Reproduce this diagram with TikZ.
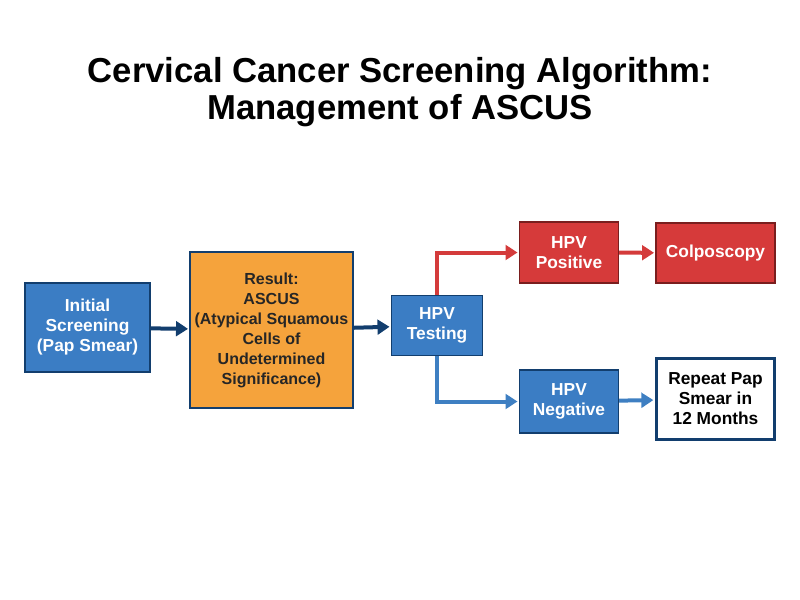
\documentclass[tikz,border=0pt]{standalone}
\usepackage{fontspec}
\setmainfont{Liberation Sans}
\usetikzlibrary{arrows.meta, positioning}
\definecolor{boxblue}{HTML}{3B7DC4}
\definecolor{boxred}{HTML}{D63A3A}
\definecolor{boxorange}{HTML}{F5A33C}
\definecolor{edgeblue}{HTML}{123E6E}
\definecolor{edgered}{HTML}{7A1E1E}
\definecolor{arrowred}{HTML}{D43B3B}
\definecolor{arrowblue}{HTML}{3E7FC2}
\tikzset{
  flowbox/.style={draw=edgeblue, line width=1.2pt, align=center, inner sep=2pt,
    font=\bfseries\fontsize{13}{15}\selectfont},
  blue box/.style={flowbox, fill=boxblue, text=white},
  red box/.style={flowbox, fill=boxred, draw=edgered, text=white},
  flow/.style={-{Triangle[length=9pt,width=11pt]}, line width=3pt, shorten >=1pt}
}
\begin{document}
\begin{tikzpicture}[x=0.75pt,y=-0.75pt]
\useasboundingbox (0,0) rectangle (800,600);
% title
\node[font=\bfseries\fontsize{26}{28}\selectfont, align=center] (title) at (400,92)
  {Cervical Cancer Screening Algorithm:\\Management of ASCUS};
% boxes
\node[blue box, minimum width=94pt, minimum height=67pt] (init) at (87.5,327.5)
  {Initial\\Screening\\(Pap Smear)};
\node[flowbox, fill=boxorange, text=black!85, font=\bfseries\fontsize{12}{15}\selectfont,
  minimum width=122pt, minimum height=117pt] (ascus) at (271.5,330)
  {Result:\\ASCUS\\(Atypical Squamous\\Cells of\\Undetermined\\Significance)};
\node[blue box, minimum width=68pt, minimum height=45pt] (hpv) at (437,325.5) {HPV\\Testing};
\node[red box, minimum width=74pt, minimum height=46pt] (pos) at (569,252.5) {HPV\\Positive};
\node[red box, minimum width=89pt, minimum height=45pt] (colpo) at (715.5,253) {Colposcopy};
\node[blue box, minimum width=74pt, minimum height=47pt] (neg) at (569,401.5) {HPV\\Negative};
\node[flowbox, fill=white, text=black, line width=2.2pt, minimum width=89pt, minimum height=61pt] (rep) at (715.5,399)
  {Repeat Pap\\Smear in\\12 Months};
% arrows
\draw[flow, edgeblue] (init) -- (ascus);
\draw[flow, edgeblue] (ascus) -- (hpv);
\draw[flow, arrowred] (hpv.north) |- (pos.west);
\draw[flow, arrowblue] (hpv.south) |- (neg.west);
\draw[flow, arrowred] (pos) -- (colpo);
\draw[flow, arrowblue] (neg) -- (rep);
\end{tikzpicture}
\end{document}
